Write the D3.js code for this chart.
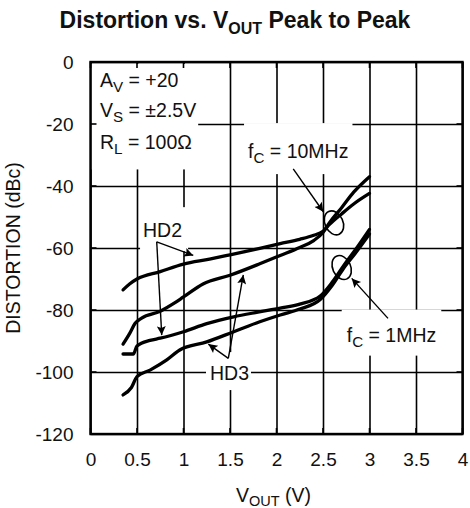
<!DOCTYPE html>
<html>
<head>
<meta charset="utf-8">
<script src="https://cdn.jsdelivr.net/npm/d3@7"></script>
<style>
  body { margin: 0; background: #fff; }
  svg { display: block; }
  text { font-family: "Liberation Sans", Arial, Helvetica, sans-serif; fill: #111; }
</style>
</head>
<body>
<div id="chart"></div>
<script>
// Axis ticks
const xTicks = [0, 0.5, 1, 1.5, 2, 2.5, 3, 3.5, 4];
const xTickLabels = ["0", "0.5", "1", "1.5", "2", "2.5", "3", "3.5", "4"];
const yTicks = [0, -20, -40, -60, -80, -100, -120];
const yTickLabels = ["0", "-20", "-40", "-60", "-80", "-100", "-120"];

// Distortion curves: [VOUT (V), distortion (dBc)]
const hd2_10MHz = [[0.35,-73.5],[0.42,-71.6],[0.5,-70],[0.75,-67.6],[1.0,-65.2],[1.28,-63.6],[1.5,-62.2],[1.82,-60.1],[2.04,-58.6],[2.25,-57.2],[2.4,-55.9],[2.5,-54.6],[2.57,-52.4],[2.7,-49],[2.83,-45.8],[3.0,-42.4]];
const hd3_10MHz = [[0.35,-91],[0.42,-87.6],[0.48,-84.3],[0.55,-82.6],[0.75,-80.4],[0.9,-77.8],[1.0,-75.8],[1.21,-71.6],[1.5,-68.8],[1.82,-65.1],[2.04,-62.4],[2.25,-59.8],[2.4,-57.6],[2.5,-55],[2.57,-51.8],[2.7,-47],[2.83,-42],[3.0,-37]];
const hd2_1MHz = [[0.35,-94.2],[0.46,-94.2],[0.5,-91.6],[0.64,-89.8],[0.75,-89.1],[1.0,-87],[1.25,-84.4],[1.54,-82.2],[1.8,-80.7],[2.04,-79.4],[2.25,-78.1],[2.47,-75.5],[2.6,-71],[2.72,-65.8],[2.85,-60.5],[3.0,-54]];
const hd3_1MHz = [[0.35,-107.4],[0.44,-105],[0.5,-101.5],[0.64,-99.4],[0.82,-96.1],[0.96,-92.9],[1.25,-90.3],[1.54,-87],[1.82,-83.8],[2.04,-81.6],[2.25,-79.7],[2.47,-76.6],[2.6,-72],[2.72,-66.6],[2.85,-61.6],[3.0,-55.5]];
const curves = [hd2_10MHz, hd3_10MHz, hd2_1MHz, hd3_1MHz];

// Callouts, in data units
const hd2Arrows = { from: [0.712, -58.0], to: [[1.105, -62.4], [0.766, -88.1]] };
const hd3Arrows = { from: [1.482, -95.6], to: [[1.643, -68.7], [1.267, -91.0]] };
const fc10Arrow = { from: [2.18, -34.5], to: [2.503, -48.3] };
const fc1Arrow = { from: [3.199, -82.7], to: [2.809, -69.8] };
const ellipses = [[2.618, -51.9], [2.701, -66.3]];

const W = 470, H = 508;
const plot = { left: 90.5, right: 462.5, top: 62, bottom: 434 };

const x = d3.scaleLinear().domain([0, 4]).range([plot.left, plot.right]);
const y = d3.scaleLinear().domain([-120, 0]).range([plot.bottom, plot.top]);

const svg = d3.select("#chart").append("svg").attr("width", W).attr("height", H);

svg.append("defs").append("marker")
  .attr("id", "arrow")
  .attr("viewBox", "0 0 10 10")
  .attr("refX", 10).attr("refY", 5)
  .attr("markerUnits", "userSpaceOnUse")
  .attr("markerWidth", 12).attr("markerHeight", 9)
  .attr("orient", "auto")
  .append("path").attr("d", "M0,0 L10,5 L0,10 L2,5 Z").attr("fill", "#000");

// Grid lines
const gridX = svg.append("g")
  .attr("transform", `translate(0,${plot.bottom})`)
  .call(d3.axisBottom(x).tickValues(xTicks).tickSize(-(plot.bottom - plot.top)).tickFormat(""));
const gridY = svg.append("g")
  .attr("transform", `translate(${plot.left},0)`)
  .call(d3.axisLeft(y).tickValues(yTicks).tickSize(-(plot.right - plot.left)).tickFormat(""));
[gridX, gridY].forEach(g => {
  g.select(".domain").remove();
  g.selectAll("line").attr("stroke", "#000").attr("stroke-width", 1.6);
});

const boxLayer = svg.append("g");
const tickLayer = svg.append("g");
const curveLayer = svg.append("g");
const noteLayer = svg.append("g");
const textLayer = svg.append("g");

// Short inward ticks along the frame
xTicks.forEach(v => {
  tickLayer.append("line").attr("x1", x(v)).attr("x2", x(v)).attr("y1", plot.top).attr("y2", plot.top + 6);
  tickLayer.append("line").attr("x1", x(v)).attr("x2", x(v)).attr("y1", plot.bottom).attr("y2", plot.bottom - 6);
});
yTicks.forEach(v => {
  tickLayer.append("line").attr("y1", y(v)).attr("y2", y(v)).attr("x1", plot.left).attr("x2", plot.left + 6);
  tickLayer.append("line").attr("y1", y(v)).attr("y2", y(v)).attr("x1", plot.right).attr("x2", plot.right - 6);
});
tickLayer.selectAll("line").attr("stroke", "#000").attr("stroke-width", 1.6);

// Curves
const line = d3.line().x(d => x(d[0])).y(d => y(d[1])).curve(d3.curveMonotoneX);
curveLayer.selectAll("path").data(curves).join("path")
  .attr("d", line)
  .attr("fill", "none")
  .attr("stroke", "#000")
  .attr("stroke-width", 3.3)
  .attr("stroke-linecap", "round")
  .attr("stroke-linejoin", "round");

// Arrows and ellipses
function arrow(from, to) {
  noteLayer.append("line")
    .attr("x1", x(from[0])).attr("y1", y(from[1]))
    .attr("x2", x(to[0])).attr("y2", y(to[1]))
    .attr("stroke", "#000").attr("stroke-width", 1.4)
    .attr("marker-end", "url(#arrow)");
}
hd2Arrows.to.forEach(t => arrow(hd2Arrows.from, t));
hd3Arrows.to.forEach(t => arrow(hd3Arrows.from, t));
arrow(fc10Arrow.from, fc10Arrow.to);
arrow(fc1Arrow.from, fc1Arrow.to);
ellipses.forEach(c => {
  noteLayer.append("ellipse")
    .attr("transform", `translate(${x(c[0])},${y(c[1])}) rotate(-25)`)
    .attr("rx", 9).attr("ry", 12.5)
    .attr("fill", "none").attr("stroke", "#000").attr("stroke-width", 1.6);
});

// Labels with subscripts; each gets a white backing box that breaks the grid
function label(parts, px, py, size, pad) {
  const t = textLayer.append("text").attr("x", px).attr("y", py).attr("font-size", size);
  let shift = 0;
  parts.forEach(p => {
    const s = t.append("tspan").text(p[0]);
    const want = p[1] ? 5 : 0;
    if (want !== shift) { s.attr("dy", want - shift); shift = want; }
    if (p[1]) s.attr("font-size", size * 0.78);
  });
  if (pad) {
    const b = t.node().getBBox();
    boxLayer.append("rect")
      .attr("x", b.x - pad[0]).attr("y", b.y - pad[2])
      .attr("width", b.width + pad[0] + pad[1])
      .attr("height", b.height + pad[2] + pad[3])
      .attr("fill", "#fff");
  }
  return t;
}

const fs = 19.5;
label([["A"], ["V", 1], [" = +20"]], x(0.102), y(-8.1), fs, null);
label([["V"], ["S", 1], [" = ±2.5V"]], x(0.102), y(-17.7), fs, null);
label([["R"], ["L", 1], [" = 100Ω"]], x(0.102), y(-28.2), fs, null);
{
  const b = textLayer.node().getBBox();
  boxLayer.append("rect").attr("x", plot.left + 1).attr("y", plot.top + 2)
    .attr("width", b.x + b.width + 2 - plot.left - 1)
    .attr("height", b.y + b.height + 12 - plot.top - 2).attr("fill", "#fff");
}
label([["HD2"]], x(0.565), y(-56.5), fs, [3, 6, 12, 10]);
label([["HD3"]], x(1.285), y(-102.6), fs, [4, 2, 10, 6]);
label([["f"], ["C", 1], [" = 10MHz"]], x(1.694), y(-31), fs, [4, 4, 17, 8]);
label([["f"], ["C", 1], [" = 1MHz"]], x(2.755), y(-90.2), fs, [5, 5, 14, 6]);

// Frame
svg.append("rect")
  .attr("x", plot.left).attr("y", plot.top)
  .attr("width", plot.right - plot.left).attr("height", plot.bottom - plot.top)
  .attr("fill", "none").attr("stroke", "#000").attr("stroke-width", 2.4);

// Tick labels
const xAxis = svg.append("g")
  .attr("transform", `translate(0,${plot.bottom})`)
  .call(d3.axisBottom(x).tickValues(xTicks).tickSize(0).tickPadding(19)
    .tickFormat((d, i) => xTickLabels[i]));
const yAxis = svg.append("g")
  .attr("transform", `translate(${plot.left},0)`)
  .call(d3.axisLeft(y).tickValues(yTicks).tickSize(0).tickPadding(17)
    .tickFormat((d, i) => yTickLabels[i]));
[xAxis, yAxis].forEach(g => {
  g.select(".domain").remove();
  g.selectAll("text").attr("font-size", 19).attr("font-family", null).attr("fill", "#111");
});

// Title
const title = svg.append("text").attr("x", W / 2).attr("y", 28)
  .attr("text-anchor", "middle").attr("font-size", 23).attr("font-weight", "bold").attr("fill", "#222");
title.append("tspan").text("Distortion vs. V");
title.append("tspan").text("OUT").attr("font-size", 16).attr("dy", 6);
title.append("tspan").text(" Peak to Peak").attr("dy", -6);

// Axis titles
const xt = svg.append("text").attr("x", (plot.left + plot.right) / 2 - 3).attr("y", 502)
  .attr("text-anchor", "middle").attr("font-size", 19.5);
xt.append("tspan").text("V");
xt.append("tspan").text("OUT").attr("font-size", 14.5).attr("dy", 4);
xt.append("tspan").text(" (V)").attr("dy", -4);

svg.append("text")
  .attr("transform", `translate(20,${(plot.top + plot.bottom) / 2}) rotate(-90)`)
  .attr("text-anchor", "middle").attr("font-size", 19.5)
  .text("DISTORTION (dBc)");
</script>
</body>
</html>
